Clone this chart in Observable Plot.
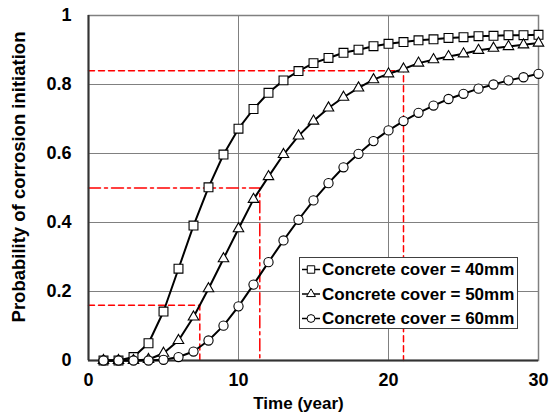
<!DOCTYPE html>
<html>
<head>
<meta charset="utf-8">
<script src="https://cdn.jsdelivr.net/npm/d3@7"></script>
<script src="https://cdn.jsdelivr.net/npm/@observablehq/plot@0.6"></script>
<style>
  html, body { margin: 0; padding: 0; background: #fff; }
  #wrap { position: relative; width: 549px; height: 418px; font-family: "Liberation Sans", Arial, sans-serif; }
  #legend { position: absolute; left: 299px; top: 257px; width: 219px; height: 72px; background: #fff; border: 1px solid #404040; box-sizing: border-box; }
</style>
</head>
<body>
<div id="wrap"></div>
<script>
const years = d3.range(1, 31);
const seriesNames = ["Concrete cover = 40mm", "Concrete cover = 50mm", "Concrete cover = 60mm"];
const seriesSymbols = ["square", "triangle", "circle"];
const p40 = [0, 0, 0.01, 0.05, 0.142, 0.266, 0.391, 0.502, 0.597, 0.672, 0.729, 0.776, 0.812, 0.839, 0.862, 0.877, 0.892, 0.901, 0.911, 0.918, 0.923, 0.928, 0.931, 0.935, 0.937, 0.940, 0.941, 0.943, 0.943, 0.944];
const p50 = [0, 0, 0, 0.003, 0.021, 0.058, 0.126, 0.208, 0.295, 0.382, 0.467, 0.533, 0.597, 0.651, 0.694, 0.732, 0.763, 0.790, 0.814, 0.831, 0.845, 0.862, 0.872, 0.881, 0.889, 0.899, 0.905, 0.910, 0.915, 0.920];
const p60 = [0, 0, 0, 0, 0.002, 0.010, 0.026, 0.058, 0.101, 0.157, 0.220, 0.285, 0.348, 0.408, 0.464, 0.514, 0.560, 0.599, 0.636, 0.667, 0.694, 0.718, 0.739, 0.758, 0.773, 0.788, 0.800, 0.812, 0.821, 0.831];
// reference probabilities and the times at which they are reached (red guides)
const refProb = [0.16, 0.5, 0.84];
const refTime = [7.42, 11.42, 21.0];
const refDash = ["6,4", "12,4,3,4", "6,4"];
const xTicks = [0, 10, 20, 30];
const yTicks = [0, 0.2, 0.4, 0.6, 0.8, 1];
const xLabel = "Time (year)";
const yLabel = "Probability of corrosion initiation";

const allSeries = [p40, p50, p60];
const data = [];
allSeries.forEach((vals, s) => vals.forEach((v, i) => data.push({series: seriesNames[s], sym: seriesSymbols[s], t: years[i], p: v})));
const guides = [];
refProb.forEach((p, i) => {
  guides.push({g: i, t: 0, p: p});
  guides.push({g: i, t: refTime[i], p: p});
  guides.push({g: i, t: refTime[i], p: 0});
});

const font = "Liberation Sans, Arial, sans-serif";
const marks = [
  Plot.gridX(xTicks.slice(1, -1), {stroke: "#808080", strokeOpacity: 1, strokeWidth: 1}),
  Plot.gridY(yTicks.slice(1, -1), {stroke: "#808080", strokeOpacity: 1, strokeWidth: 1}),
  Plot.frame({stroke: "#808080", strokeWidth: 1.5}),
];
refProb.forEach((p, i) => {
  marks.push(Plot.line(guides.filter(d => d.g === i), {x: "t", y: "p", stroke: "#ff0000", strokeWidth: 1.5, strokeDasharray: refDash[i]}));
});
marks.push(
  Plot.ruleX([0], {stroke: "#333", strokeWidth: 2}),
  Plot.ruleY([0], {stroke: "#333", strokeWidth: 2}),
);
seriesNames.forEach((name, s) => {
  const d = data.filter(r => r.series === name);
  marks.push(Plot.line(d, {x: "t", y: "p", stroke: "#000", strokeWidth: 2}));
  const r = seriesSymbols[s] === "square" ? 5 : seriesSymbols[s] === "triangle" ? 3.9 : 4.6;
  marks.push(Plot.dot(d, {x: "t", y: "p", symbol: seriesSymbols[s], r: r, fill: "#fff", stroke: "#000", strokeWidth: 1.1}));
});
marks.push(
  Plot.axisX(xTicks, {tickSize: 0, tickPadding: 13, label: null, fontSize: 18, fontWeight: "bold", fill: "#000"}),
  Plot.axisY(yTicks, {tickSize: 0, tickPadding: 17, tickFormat: d => String(d), label: null, fontSize: 18, fontWeight: "bold", fill: "#000"}),
  Plot.text([xLabel], {frameAnchor: "bottom", dy: 48, dx: -15, text: d => d, fontSize: 17, fontWeight: "bold", fill: "#000"}),
  Plot.text([yLabel], {frameAnchor: "left", rotate: -90, dx: -69, dy: -11, text: d => d, textAnchor: "middle", lineAnchor: "middle", fontSize: 18.5, fontWeight: "bold", fill: "#000"})
);

const chart = Plot.plot({
  width: 549,
  height: 418,
  marginLeft: 88,
  marginRight: 11,
  marginTop: 15,
  marginBottom: 58,
  style: {fontFamily: font, background: "#fff", overflow: "visible"},
  x: {domain: [0, 30]},
  y: {domain: [0, 1]},
  marks
});
const wrap = document.getElementById("wrap");
wrap.appendChild(chart);

// legend
const leg = document.createElement("div");
leg.id = "legend";
const ns = "http://www.w3.org/2000/svg";
const lsvg = document.createElementNS(ns, "svg");
lsvg.setAttribute("width", 217);
lsvg.setAttribute("height", 70);
lsvg.style.display = "block";
const symPaths = {square: d3.symbolSquare, triangle: d3.symbolTriangle, circle: d3.symbolCircle};
const symR = {square: 4.2, triangle: 3.3, circle: 3.9};
seriesNames.forEach((name, i) => {
  const cy = 11.5 + i * 24.5;
  const ln = document.createElementNS(ns, "line");
  ln.setAttribute("x1", 2); ln.setAttribute("x2", 20);
  ln.setAttribute("y1", cy); ln.setAttribute("y2", cy);
  ln.setAttribute("stroke", "#000"); ln.setAttribute("stroke-width", 1.5);
  lsvg.appendChild(ln);
  const pth = document.createElementNS(ns, "path");
  const rr = symR[seriesSymbols[i]];
  pth.setAttribute("d", d3.symbol(symPaths[seriesSymbols[i]], Math.PI * rr * rr)());
  pth.setAttribute("transform", `translate(11,${cy})`);
  pth.setAttribute("fill", "#fff"); pth.setAttribute("stroke", "#000"); pth.setAttribute("stroke-width", 1);
  lsvg.appendChild(pth);
  const tx = document.createElementNS(ns, "text");
  tx.setAttribute("x", 22); tx.setAttribute("y", cy);
  tx.setAttribute("dy", "0.35em");
  tx.setAttribute("font-family", font);
  tx.setAttribute("font-size", 17);
  tx.setAttribute("font-weight", "bold");
  tx.textContent = name;
  lsvg.appendChild(tx);
});
leg.appendChild(lsvg);
wrap.appendChild(leg);
</script>
</body>
</html>
